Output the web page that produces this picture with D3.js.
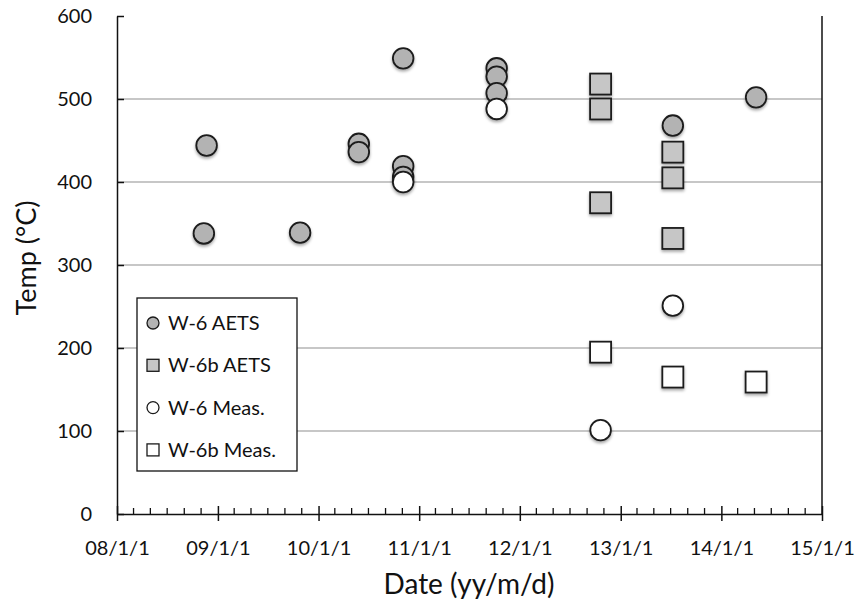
<!DOCTYPE html>
<html>
<head>
<meta charset="utf-8">
<script src="https://cdn.jsdelivr.net/npm/d3@7"></script>
<style>
  body { margin: 0; background: #fff; }
  text { font-family: Lato, "Open Sans", sans-serif; fill: #111; }
</style>
</head>
<body>
<div id="chart"></div>
<script>
// series (date, temp in deg C)
var w6AetsDates = ["2008-11-11", "2008-11-21", "2009-10-26", "2010-05-27", "2010-05-27",
	"2010-11-04", "2010-11-04", "2010-11-04", "2011-10-09", "2011-10-09", "2011-10-09",
	"2013-07-09", "2014-05-07"];
var w6AetsTemps = [338, 444, 339, 446, 436, 549, 419, 406, 537, 527, 507, 468, 502];

var w6bAetsDates = ["2012-10-20", "2012-10-20", "2012-10-20", "2013-07-09", "2013-07-09", "2013-07-09"];
var w6bAetsTemps = [518, 488, 375, 436, 405, 332];

var w6MeasDates = ["2010-11-04", "2011-10-09", "2012-10-20", "2013-07-09"];
var w6MeasTemps = [400, 488, 101, 251];

var w6bMeasDates = ["2012-10-20", "2013-07-09", "2014-05-07"];
var w6bMeasTemps = [195, 165, 159];

var legendLabels = ["W-6 AETS", "W-6b AETS", "W-6 Meas.", "W-6b Meas."];
var yTicks = [0, 100, 200, 300, 400, 500, 600];
var xTickYears = ["2008", "2009", "2010", "2011", "2012", "2013", "2014", "2015"];

var svgWidth = 856;
var svgHeight = 601;
var margin = { top: 16, right: 34, bottom: 87, left: 117 };
var width = svgWidth - margin.left - margin.right;
var height = svgHeight - margin.top - margin.bottom;

var parse = d3.timeParse("%Y-%m-%d");
var fmt = d3.timeFormat("%y/%-m/%-d");

var svg = d3.select("#chart").append("svg")
	.attr("width", svgWidth)
	.attr("height", svgHeight);

// soft shadow under markers
var filter = svg.append("defs").append("filter")
	.attr("id", "shadow")
	.attr("x", "-50%").attr("y", "-50%")
	.attr("width", "200%").attr("height", "200%");
filter.append("feDropShadow")
	.attr("dx", 0).attr("dy", 2)
	.attr("stdDeviation", 1.5)
	.attr("flood-color", "#000")
	.attr("flood-opacity", 0.35);

var chartGroup = svg.append("g")
	.attr("transform", `translate(${margin.left}, ${margin.top})`);

var xScale = d3.scaleTime()
	.domain([parse("2008-01-01"), parse("2015-01-01")])
	.range([0, width]);

var yScale = d3.scaleLinear()
	.domain([0, 600])
	.range([height, 0]);

// gridlines
chartGroup.selectAll(".grid")
	.data(yTicks.filter(d => d > 0 && d < 600))
	.enter()
	.append("line")
	.attr("x1", 0)
	.attr("x2", width)
	.attr("y1", d => yScale(d))
	.attr("y2", d => yScale(d))
	.attr("stroke", "#b4b4b4")
	.attr("stroke-width", 1.3);

// right border of the plot area
chartGroup.append("line")
	.attr("x1", width).attr("x2", width)
	.attr("y1", 0).attr("y2", height)
	.attr("stroke", "#111")
	.attr("stroke-width", 1.5);

// minor x ticks, every two months, inside
var minorTicks = d3.timeMonth.every(2).range(xScale.domain()[0], xScale.domain()[1])
	.filter(d => d.getMonth() !== 0);
chartGroup.selectAll(".minor")
	.data(minorTicks)
	.enter()
	.append("line")
	.attr("x1", d => xScale(d))
	.attr("x2", d => xScale(d))
	.attr("y1", height)
	.attr("y2", height - 6)
	.attr("stroke", "#111")
	.attr("stroke-width", 1.3);

// x axis
var xAxis = d3.axisBottom(xScale)
	.tickValues(xTickYears.map(y => parse(y + "-01-01")))
	.tickFormat(fmt)
	.tickSizeInner(7)
	.tickSizeOuter(0)
	.tickPadding(20);
var xAxisG = chartGroup.append("g")
	.attr("transform", `translate(0, ${height})`)
	.call(xAxis);
xAxisG.selectAll(".tick line").attr("y1", -8);

// y axis
var yAxis = d3.axisLeft(yScale)
	.tickValues(yTicks)
	.tickSizeInner(8)
	.tickSizeOuter(0)
	.tickPadding(17);
var yAxisG = chartGroup.append("g").call(yAxis);
yAxisG.selectAll(".tick line").attr("x2", 7);

chartGroup.selectAll(".domain, .tick line")
	.attr("stroke", "#111")
	.attr("stroke-width", 1.5);
chartGroup.selectAll(".tick text")
	.style("font-family", "Lato, sans-serif")
	.style("font-size", "20px")
	.attr("fill", "#111");

// axis titles
svg.append("text")
	.attr("x", 469)
	.attr("y", 594)
	.attr("text-anchor", "middle")
	.style("font-size", "28px")
	.text("Date (yy/m/d)");

svg.append("text")
	.attr("transform", "translate(36, 258) rotate(-90)")
	.attr("text-anchor", "middle")
	.style("font-size", "27px")
	.text("Temp (°C)");

// markers
var circleR = 10.3;
var squareS = 21;

function drawCircles(dates, temps, fill) {
	chartGroup.append("g")
		.selectAll("circle")
		.data(dates.map((d, i) => ({ date: parse(d), temp: temps[i] })))
		.enter()
		.append("circle")
		.attr("cx", d => xScale(d.date))
		.attr("cy", d => yScale(d.temp))
		.attr("r", circleR)
		.attr("fill", fill)
		.attr("stroke", "#1a1a1a")
		.attr("stroke-width", 1.8)
		.attr("filter", "url(#shadow)");
}

function drawSquares(dates, temps, fill) {
	chartGroup.append("g")
		.selectAll("rect")
		.data(dates.map((d, i) => ({ date: parse(d), temp: temps[i] })))
		.enter()
		.append("rect")
		.attr("x", d => xScale(d.date) - squareS / 2)
		.attr("y", d => yScale(d.temp) - squareS / 2)
		.attr("width", squareS)
		.attr("height", squareS)
		.attr("fill", fill)
		.attr("stroke", "#1a1a1a")
		.attr("stroke-width", 1.8)
		.attr("filter", "url(#shadow)");
}

drawCircles(w6AetsDates, w6AetsTemps, "#b3b3b3");
drawSquares(w6bAetsDates, w6bAetsTemps, "#c6c6c6");
drawCircles(w6MeasDates, w6MeasTemps, "#ffffff");
drawSquares(w6bMeasDates, w6bMeasTemps, "#ffffff");

// legend
var legend = svg.append("g").attr("transform", "translate(137, 298)");
legend.append("rect")
	.attr("width", 160)
	.attr("height", 173)
	.attr("fill", "#fff")
	.attr("stroke", "#111")
	.attr("stroke-width", 1.3);

var legendFills = ["#b3b3b3", "#c6c6c6", "#ffffff", "#ffffff"];
var legendShapes = ["circle", "square", "circle", "square"];

legendLabels.forEach((label, i) => {
	var cy = 25 + i * 42.3;
	if (legendShapes[i] === "circle") {
		legend.append("circle")
			.attr("cx", 16).attr("cy", cy).attr("r", 6)
			.attr("fill", legendFills[i])
			.attr("stroke", "#1a1a1a").attr("stroke-width", 1.3);
	} else {
		legend.append("rect")
			.attr("x", 10).attr("y", cy - 6)
			.attr("width", 12).attr("height", 12)
			.attr("fill", legendFills[i])
			.attr("stroke", "#1a1a1a").attr("stroke-width", 1.3);
	}
	legend.append("text")
		.attr("x", 31)
		.attr("y", cy + 7)
		.style("font-size", "20px")
		.text(label);
});
</script>
</body>
</html>
